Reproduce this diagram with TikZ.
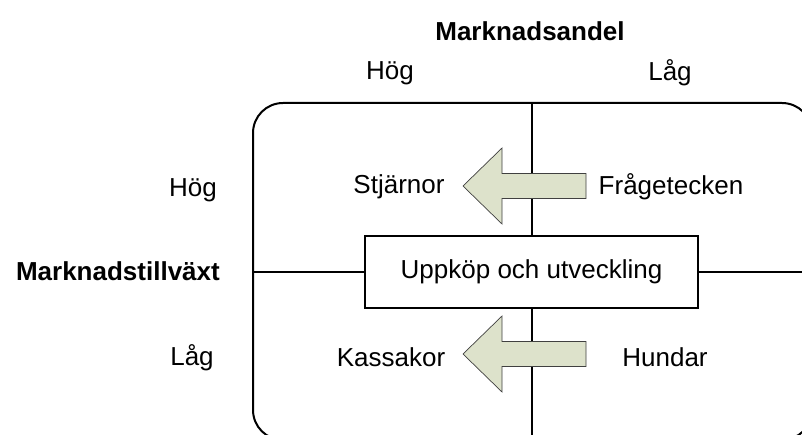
\documentclass[tikz,border=0pt]{standalone}
\usepackage{fontspec}
\setmainfont{Liberation Sans}
\begin{document}
\begin{tikzpicture}[x=1pt,y=-1pt,
  lbl/.style={inner sep=0pt,font=\fontsize{26}{31}\selectfont},
  head/.style={inner sep=0pt,font=\fontsize{26}{31}\selectfont\bfseries},
  frame/.style={line width=2pt,rounded corners=30pt},
  divider/.style={line width=1.7pt},
  centrebox/.style={draw,line width=2.2pt,fill=white,minimum width=333pt,minimum height=72pt,inner sep=0pt,font=\fontsize{26}{31}\selectfont},
  movearrow/.style={draw=black!75,line width=0.7pt,fill=arrowfill,line join=miter}
]
\definecolor{arrowfill}{HTML}{DDE2CB}
\useasboundingbox (0,0) rectangle (802,435);

% outer frame of the matrix (runs past the page edge on the right and bottom)
\draw[frame] (253,103) rectangle (812,440);
\coordinate (ftop) at (532,103);
\coordinate (fbot) at (532,440);
\coordinate (fleft) at (253,272);
\coordinate (fright) at (812,272);

% central box
\node[centrebox] (box) at (531.5,272) {Uppköp och utveckling};

% quadrant dividers
\draw[divider] (ftop) -- (box.north -| ftop);
\draw[divider] (box.south -| fbot) -- (fbot);
\draw[divider] (fleft) -- (box.west);
\draw[divider] (box.east) -- (fright);

% axis headings
\node[head] (share) at (530,31) {Marknadsandel};
\node[lbl] (hi1) at (390,73) {Hög};
\node[lbl] (lo1) at (670,73) {Låg};
\node[head,anchor=east] (growth) at (220,271) {Marknadstillväxt};
\node[lbl] (hi2) at (193,190) {Hög};
\node[lbl] (lo2) at (192,358) {Låg};

% quadrant names
\node[lbl] (star) at (399,187) {Stjärnor};
\node[lbl] (quest) at (671,187) {Frågetecken};
\node[lbl] (cow) at (391,357) {Kassakor};
\node[lbl] (dog) at (665,357) {Hundar};

% movement arrows
\foreach \yc in {186,354}{
  \draw[movearrow] (586,\yc-12.5) -- (502,\yc-12.5) -- (502,\yc-38) -- (463,\yc)
     -- (502,\yc+38) -- (502,\yc+12.5) -- (586,\yc+12.5) -- cycle;
}
\end{tikzpicture}
\end{document}
